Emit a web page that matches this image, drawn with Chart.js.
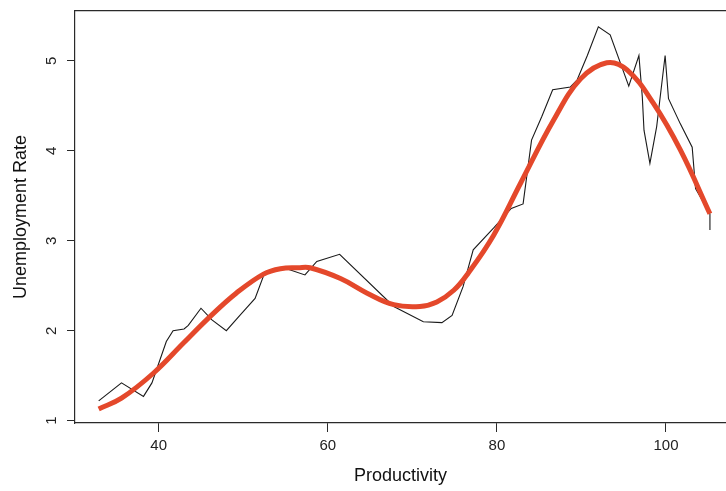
<!DOCTYPE html>
<html>
<head>
<meta charset="utf-8">
<script src="https://cdn.jsdelivr.net/npm/chart.js@4.4.0/dist/chart.umd.min.js"></script>
<style>
  html, body { margin: 0; padding: 0; background: #fff; overflow: hidden; }
  #grafico { display: block; }
</style>
</head>
<body>
<canvas id="grafico" width="726" height="491"></canvas>
<script>
// observed series (thin black line)
const productividad = [32.9, 35.6, 38.2, 39.2, 40.9, 41.7, 43.0, 43.5, 45.0, 46.3, 48.0, 49.6, 51.4, 52.4, 53.2, 54.4, 55.4, 57.3, 58.7, 61.4, 67.8, 71.3, 73.5, 74.7, 76.0, 77.2, 79.6, 81.7, 83.1, 84.1, 85.3, 86.6, 88.7, 89.5, 90.7, 92.0, 93.4, 95.6, 96.8, 97.2, 97.4, 98.1, 98.9, 99.9, 100.3, 101.7, 103.1, 103.5, 105.2, 105.2];
const desempleo = [1.22, 1.42, 1.27, 1.42, 1.88, 2.00, 2.02, 2.06, 2.25, 2.12, 2.00, 2.17, 2.36, 2.61, 2.67, 2.70, 2.68, 2.62, 2.77, 2.85, 2.27, 2.10, 2.09, 2.17, 2.49, 2.90, 3.14, 3.36, 3.41, 4.12, 4.38, 4.68, 4.71, 4.79, 5.06, 5.38, 5.29, 4.72, 5.06, 4.60, 4.23, 3.86, 4.27, 5.06, 4.58, 4.30, 4.04, 3.58, 3.30, 3.12];

// smoothed fit (thick red line)
const suaveX = [32.9, 35.6, 39.4, 42.9, 46.1, 49.2, 52.4, 54.4, 56.5, 57.9, 61.5, 64.6, 67.8, 70.9, 72.9, 74.9, 76.6, 79.6, 82.8, 86.7, 89.9, 93.0, 95.4, 98.5, 101.7, 105.2];
const suaveY = [1.13, 1.25, 1.53, 1.86, 2.16, 2.42, 2.63, 2.69, 2.70, 2.70, 2.58, 2.42, 2.29, 2.27, 2.32, 2.45, 2.64, 3.06, 3.64, 4.34, 4.80, 4.98, 4.90, 4.53, 4.01, 3.30];

// axis ticks
const ticksX = [40, 60, 80, 100];
const ticksY = [1, 2, 3, 4, 5];

const fuente = "'Liberation Sans', Arial, sans-serif";
const colorEje = '#2a2a2a';

const ctx = document.getElementById('grafico').getContext('2d');

new Chart(ctx, {
    type: 'scatter',
    data: {
        datasets: [
            {
                label: 'Suavizado',
                data: suaveX.map((x, i) => ({ x: x, y: suaveY[i] })),
                showLine: true,
                borderColor: '#e4482b',
                borderWidth: 5,
                tension: 0.4,
                pointRadius: 0,
                order: 0
            },
            {
                label: 'Observado',
                data: productividad.map((x, i) => ({ x: x, y: desempleo[i] })),
                showLine: true,
                borderColor: '#1a1a1a',
                borderWidth: 1.1,
                tension: 0,
                pointRadius: 0,
                order: 1
            }
        ]
    },
    options: {
        responsive: false,
        animation: false,
        layout: { padding: 0 },
        plugins: {
            legend: { display: false },
            tooltip: { enabled: false }
        },
        scales: {
            x: {
                type: 'linear',
                position: 'bottom',
                min: 30.1,
                max: 107.1,
                afterBuildTicks: s => { s.ticks = ticksX.map(v => ({ value: v })); },
                afterFit: s => { s.height = 68; s.paddingLeft = 0; s.paddingRight = 0; },
                ticks: {
                    color: '#222',
                    font: { family: fuente, size: 15 },
                    padding: 5,
                    maxRotation: 0
                },
                grid: {
                    drawOnChartArea: false,
                    drawTicks: true,
                    tickLength: 9,
                    color: colorEje
                },
                border: { display: true, color: colorEje, width: 1.2 },
                title: {
                    display: true,
                    text: 'Productivity',
                    color: '#111',
                    font: { family: fuente, size: 18 },
                    padding: { top: 0, bottom: 4 }
                }
            },
            xTop: {
                type: 'linear',
                position: 'top',
                min: 30.1,
                max: 107.1,
                afterFit: s => { s.height = 11; },
                ticks: { display: false },
                grid: { display: false },
                border: { display: true, color: colorEje, width: 1.2 }
            },
            y: {
                type: 'linear',
                position: 'left',
                min: 0.974,
                max: 5.555,
                afterBuildTicks: s => { s.ticks = ticksY.map(v => ({ value: v })); },
                afterFit: s => { s.width = 75; s.paddingTop = 0; s.paddingBottom = 0; },
                ticks: {
                    color: '#222',
                    font: { family: fuente, size: 15 },
                    minRotation: 90,
                    maxRotation: 90,
                    crossAlign: 'center',
                    padding: 11
                },
                grid: {
                    drawOnChartArea: false,
                    drawTicks: true,
                    tickLength: 8,
                    color: colorEje
                },
                border: { display: true, color: colorEje, width: 1.2 },
                title: {
                    display: true,
                    text: 'Unemployment Rate',
                    color: '#111',
                    font: { family: fuente, size: 18 },
                    padding: { top: 10, bottom: 0 }
                }
            }
        }
    }
});
</script>
</body>
</html>
